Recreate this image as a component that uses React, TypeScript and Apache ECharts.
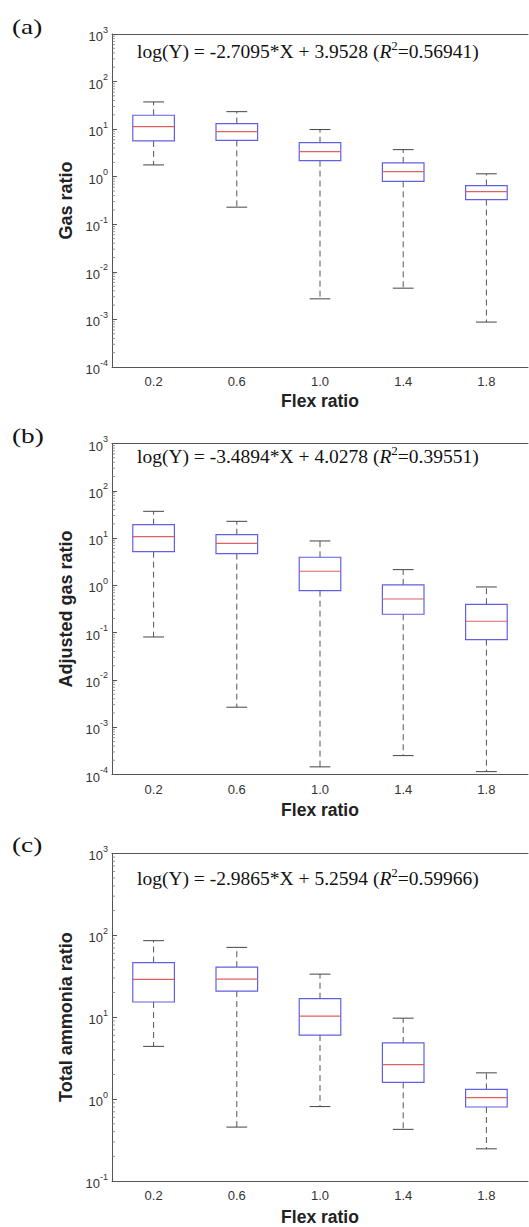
import React, { useEffect, useRef } from 'react';
import * as echarts from 'echarts';

const categories = ['0.2', '0.6', '1.0', '1.4', '1.8'];

// (a) Gas ratio
const gasLow = [1.77, 0.229, 0.00271, 0.00454, 0.00088];
const gasQ1 = [5.65, 5.8, 2.18, 0.8, 0.331];
const gasMedian = [11.3, 8.87, 3.37, 1.28, 0.487];
const gasQ3 = [19.6, 13.1, 5.2, 1.95, 0.652];
const gasHigh = [37.3, 23.3, 9.8, 3.71, 1.15];

// (b) Adjusted gas ratio
const adjLow = [0.081, 0.00265, 0.000145, 0.000251, 0.000115];
const adjQ1 = [5.16, 4.68, 0.773, 0.245, 0.0711];
const adjMedian = [10.7, 7.76, 1.99, 0.515, 0.174];
const adjQ3 = [19.2, 11.8, 3.93, 1.02, 0.398];
const adjHigh = [36.8, 22.6, 8.69, 2.15, 0.925];

// (c) Total ammonia ratio
const nh3Low = [4.4, 0.455, 0.81, 0.427, 0.247];
const nh3Q1 = [15.3, 20.8, 6.05, 1.6, 0.8];
const nh3Median = [28.9, 29.1, 10.3, 2.64, 1.04];
const nh3Q3 = [46.4, 40.7, 16.8, 4.84, 1.31];
const nh3High = [85.8, 71.1, 33.5, 9.72, 2.09];

const panelLabels = ['(a)', '(b)', '(c)'];
const yNames = ['Gas ratio', 'Adjusted gas ratio', 'Total ammonia ratio'];
const xName = 'Flex ratio';
const eqMain = ['log(Y) = -2.7095*X + 3.9528 (', 'log(Y) = -3.4894*X + 4.0278 (', 'log(Y) = -2.9865*X + 5.2594 ('];
const eqR2 = ['=0.56941)', '=0.39551)', '=0.59966)'];
const yMin = [1e-4, 1e-4, 1e-1];
const yMax = [1e3, 1e3, 1e3];

const panels = [
  { low: gasLow, q1: gasQ1, med: gasMedian, q3: gasQ3, high: gasHigh },
  { low: adjLow, q1: adjQ1, med: adjMedian, q3: adjQ3, high: adjHigh },
  { low: nh3Low, q1: nh3Q1, med: nh3Median, q3: nh3Q3, high: nh3High },
];

// layout
const gridTops = [34, 443.5, 853.3];
const gridHeights = [333, 331, 330];
const gridLeft = 112;
const gridWidth = 416;
const labelY = [26.5, 436, 845];
const eqY = [50, 455, 877];
const xNameGap = [25, 26, 27];

function minorValues(min: number, max: number) {
  const out: number[][] = [];
  for (let e = Math.round(Math.log10(min)); e < Math.round(Math.log10(max)); e++) {
    for (let m = 2; m <= 9; m++) out.push([0, m * Math.pow(10, e)]);
  }
  return out;
}

const AXIS = '#555';
const TXT = '#333';

export default function App() {
  const ref = useRef<HTMLDivElement>(null);
  useEffect(() => {
    if (!ref.current) return;
    const chart = echarts.init(ref.current, null, { renderer: 'svg' });
    const grid: any[] = [];
    const xAxis: any[] = [];
    const yAxis: any[] = [];
    const series: any[] = [];
    const graphic: any[] = [];

    panels.forEach((p, k) => {
      grid.push({ left: gridLeft, top: gridTops[k], width: gridWidth, height: gridHeights[k] });
      xAxis.push({
        type: 'category', gridIndex: k, data: categories, position: 'bottom',
        axisLine: { lineStyle: { color: AXIS, width: 1 } },
        axisTick: { inside: true, alignWithLabel: true, length: 5, lineStyle: { color: AXIS } },
        axisLabel: { color: TXT, fontSize: 13, fontFamily: 'Liberation Sans', margin: 8 },
        name: xName, nameLocation: 'middle', nameGap: xNameGap[k],
        nameTextStyle: { fontSize: 17.5, fontWeight: 'bold', color: '#222', fontFamily: 'Liberation Sans' },
        splitLine: { show: false },
      });
      xAxis.push({
        type: 'category', gridIndex: k, data: categories, position: 'top',
        axisLine: { lineStyle: { color: AXIS, width: 1 } },
        axisTick: { inside: true, alignWithLabel: true, length: 5, lineStyle: { color: AXIS } },
        axisLabel: { show: false },
        splitLine: { show: false },
      });
      yAxis.push({
        type: 'log', logBase: 10, gridIndex: k, min: yMin[k], max: yMax[k], interval: 1,
        axisLine: { show: true, lineStyle: { color: AXIS, width: 1 } },
        axisTick: { show: true, inside: true, length: 5, lineStyle: { color: AXIS } },
        minorTick: { show: false },
        splitLine: { show: false },
        axisLabel: {
          margin: 4,
          formatter: (v: number) => `{b|10}{s|${Math.round(Math.log10(v))}}`,
          rich: {
            b: { fontSize: 13, color: TXT, fontFamily: 'Liberation Sans', lineHeight: 18, verticalAlign: 'bottom' },
            s: { fontSize: 9, color: TXT, fontFamily: 'Liberation Sans', lineHeight: 10, verticalAlign: 'top' },
          },
        },
        name: yNames[k], nameLocation: 'middle', nameGap: 36,
        nameTextStyle: { fontSize: 18, fontWeight: 'bold', color: '#222', fontFamily: 'Liberation Sans' },
      });

      const rows = categories.map((_, i) => [i, p.low[i], p.q1[i], p.med[i], p.q3[i], p.high[i]]);
      series.push({
        type: 'custom', xAxisIndex: 2 * k, yAxisIndex: k,
        encode: { x: 0, y: [1, 2, 3, 4, 5] },
        data: rows,
        renderItem: (params: any, api: any) => {
          const idx = api.value(0);
          const lowP = api.coord([idx, api.value(1)]);
          const q1P = api.coord([idx, api.value(2)]);
          const medP = api.coord([idx, api.value(3)]);
          const q3P = api.coord([idx, api.value(4)]);
          const highP = api.coord([idx, api.value(5)]);
          const bw = api.size([1, 1])[0] * 0.5;
          const cx = lowP[0];
          const dash = { stroke: '#555', lineWidth: 1, lineDash: [6, 4] };
          const cap = { stroke: '#444', lineWidth: 1 };
          return {
            type: 'group',
            children: [
              { type: 'line', shape: { x1: cx, y1: q3P[1], x2: cx, y2: highP[1] }, style: dash },
              { type: 'line', shape: { x1: cx, y1: q1P[1], x2: cx, y2: lowP[1] }, style: dash },
              { type: 'line', shape: { x1: cx - bw / 4, y1: highP[1], x2: cx + bw / 4, y2: highP[1] }, style: cap },
              { type: 'line', shape: { x1: cx - bw / 4, y1: lowP[1], x2: cx + bw / 4, y2: lowP[1] }, style: cap },
              { type: 'rect', shape: { x: cx - bw / 2, y: q3P[1], width: bw, height: q1P[1] - q3P[1] }, style: { fill: '#fff', stroke: '#6060e0', lineWidth: 1.2 } },
              { type: 'line', shape: { x1: cx - bw / 2, y1: medP[1], x2: cx + bw / 2, y2: medP[1] }, style: { stroke: '#e06060', lineWidth: 1.2 } },
            ],
          };
        },
      });
      series.push({
        type: 'custom', xAxisIndex: 2 * k, yAxisIndex: k,
        encode: { x: 0, y: 1 },
        data: minorValues(yMin[k], yMax[k]),
        silent: true,
        renderItem: (params: any, api: any) => {
          const pt = api.coord([0, api.value(1)]);
          const x0 = params.coordSys.x;
          return { type: 'line', shape: { x1: x0, y1: pt[1], x2: x0 + 3, y2: pt[1] }, style: { stroke: '#777', lineWidth: 0.8 } };
        },
      });

      graphic.push({
        type: 'text', x: 12, y: labelY[k], scaleX: 1.3,
        style: { text: panelLabels[k], font: '21px "Liberation Serif"', fill: '#111', verticalAlign: 'middle' },
      });
      graphic.push({
        type: 'text', x: 137, y: eqY[k],
        style: {
          text: `{n|${eqMain[k]}}{i|R}{s|2}{n|${eqR2[k]}}`,
          verticalAlign: 'middle',
          rich: {
            n: { fontSize: 19.5, fontFamily: 'Liberation Serif', fill: '#111', lineHeight: 22, verticalAlign: 'bottom' },
            i: { fontSize: 19.5, fontFamily: 'Liberation Serif', fontStyle: 'italic', fill: '#111', lineHeight: 22, verticalAlign: 'bottom' },
            s: { fontSize: 13, fontFamily: 'Liberation Serif', fill: '#111', lineHeight: 12, verticalAlign: 'top' },
          },
        },
      });
    });

    chart.setOption({ animation: false, grid, xAxis, yAxis, series, graphic });
    return () => chart.dispose();
  }, []);
  return <div ref={ref} style={{ position: 'absolute', left: 0, top: 0, width: 529, height: 1227, background: '#fff' }} />;
}
